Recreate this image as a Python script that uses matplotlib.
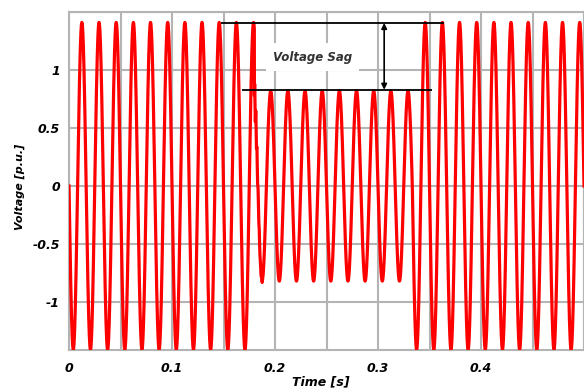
import numpy as np
import matplotlib.pyplot as plt
from matplotlib.ticker import MultipleLocator

# signal parameters
freq = 60.0            # Hz
nominal_amp = 1.41     # p.u. peak outside the sag
sag_amp = 0.82         # p.u. peak during the sag
sag_start = 0.1800     # s
sag_end = 0.3333       # s
ring_amp = 0.14        # small transient at the sag start
ring_freq = 900.0
ring_tau = 0.003

x_ticks = [0, 0.1, 0.2, 0.3, 0.4]
y_ticks = [-1, -0.5, 0, 0.5, 1]

# annotation lines (time extent, level)
top_line = ([0.148, 0.364], 1.405)
bottom_line = ([0.1675, 0.352], 0.83)
arrow_t = 0.306
label_pos = (0.2367, 1.112)

t = np.linspace(0, 0.5, 8001)
amp = np.where((t >= sag_start) & (t < sag_end), sag_amp, nominal_amp)
v = -amp * np.sin(2 * np.pi * freq * t)
ring = (t >= sag_start) & (t < sag_start + 0.008)
v[ring] += ring_amp * np.exp(-(t[ring] - sag_start) / ring_tau) * \
    np.sin(2 * np.pi * ring_freq * (t[ring] - sag_start))

fig = plt.figure(figsize=(5.84, 3.90), dpi=100)
ax = fig.add_axes([69 / 584, 1 - 350 / 390, 1 - 69 / 584, (350 - 12) / 390])

ax.plot(t, v, color='#ff0000', lw=2.3, zorder=3)

ax.set_xlim(0, 0.5)
ax.set_ylim(-1.414, 1.5)
ax.xaxis.set_minor_locator(MultipleLocator(0.05))
ax.set_yticks(y_ticks + [1.5])
ax.set_yticklabels([str(v_) for v_ in y_ticks] + [''])
ax.set_xticks(x_ticks + [0.5])
ax.set_xticklabels(['0', '0.1', '0.2', '0.3', '0.4', ''])
ax.grid(True, which='both', color='#b4b4b4', lw=1.5, zorder=0)
ax.set_axisbelow(True)
for s in ax.spines.values():
    s.set_color('#b4b4b4')
    s.set_linewidth(1.5)

ax.tick_params(which='both', length=0)
ax.tick_params(axis='y', pad=6.5)
ax.tick_params(axis='x', pad=9)
for lab in ax.get_xticklabels() + ax.get_yticklabels():
    lab.set_fontsize(9)
    lab.set_fontweight('bold')
    lab.set_fontstyle('italic')

# sag annotation
ax.hlines(top_line[1], top_line[0][0], top_line[0][1], color='black', lw=1.3, zorder=4)
ax.hlines(bottom_line[1], bottom_line[0][0], bottom_line[0][1], color='black', lw=1.3, zorder=4)
ax.annotate('', xy=(arrow_t, bottom_line[1]), xytext=(arrow_t, top_line[1]),
            arrowprops=dict(arrowstyle='<|-|>', color='black', lw=1.2,
                            mutation_scale=8, shrinkA=0, shrinkB=0), zorder=4)
ax.text(label_pos[0], label_pos[1], 'Voltage Sag', fontsize=8.5, style='italic',
        fontweight='bold', color='#333333', ha='center', va='center', zorder=5,
        bbox=dict(boxstyle='square,pad=0.6', fc='white', ec='none'))

fig.text(20 / 584, 1 - 187 / 390, 'Voltage [p.u.]', rotation=90, fontsize=8,
         fontweight='bold', style='italic', ha='center', va='center')
fig.text(321 / 584, 1 - 382 / 390, 'Time [s]', fontsize=9,
         fontweight='bold', style='italic', ha='center', va='center')

fig.savefig('out.png', dpi=100)
